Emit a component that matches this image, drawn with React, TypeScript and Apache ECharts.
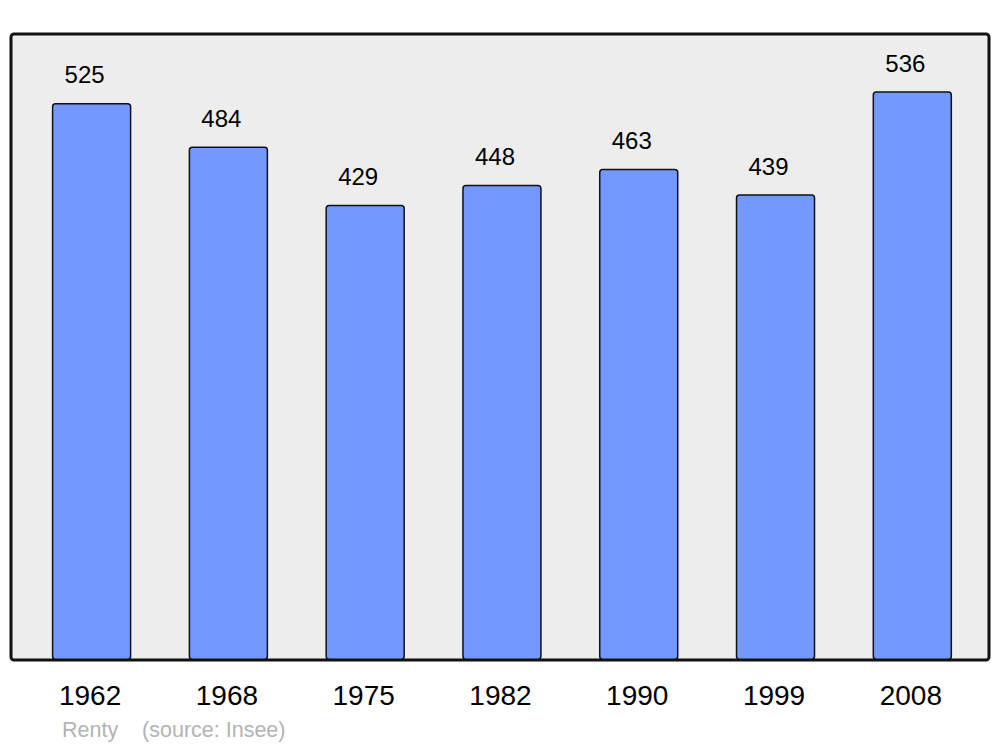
import React, { useEffect, useRef } from "react";
import * as echarts from "echarts";

const years = ["1962", "1968", "1975", "1982", "1990", "1999", "2008"];
const population = [525, 484, 429, 448, 463, 439, 536];
const sourceText = "Renty    (source: Insee)";

export default function App() {
  const ref = useRef<HTMLDivElement>(null);
  useEffect(() => {
    if (!ref.current) return;
    const chart = echarts.init(ref.current, null, { renderer: "svg" });
    chart.setOption({
      animation: false,
      backgroundColor: "#ffffff",
      textStyle: { fontFamily: "Liberation Sans, Arial, sans-serif" },
      graphic: [
        {
          type: "rect",
          z: -10,
          zlevel: 0,
          shape: { x: 11, y: 34, width: 978, height: 626, r: 3 },
          style: { fill: "#ededed", stroke: "#111111", lineWidth: 3 },
        },
        {
          type: "text",
          x: 62,
          y: 730,
          style: {
            text: sourceText,
            fill: "#b3b3b3",
            font: "21.5px Liberation Sans, Arial, sans-serif",
            verticalAlign: "middle",
          },
        },
      ],
      grid: { left: 23.2, top: 34, width: 957.5, bottom: 87, containLabel: false },
      xAxis: {
        type: "category",
        data: years,
        axisLine: { show: false },
        axisTick: { show: false },
        axisLabel: {
          fontSize: 28,
          color: "#000",
          margin: 21,
          padding: [0, 3, 0, 0],
          fontFamily: "Liberation Sans, Arial, sans-serif",
        },
      },
      yAxis: {
        type: "value",
        min: 0,
        max: 590,
        show: false,
        splitLine: { show: false },
      },
      series: [
        {
          type: "bar",
          data: population,
          barWidth: 79.5,
          itemStyle: {
            color: "#7399ff",
            borderColor: "#111111",
            borderWidth: 1.5,
            borderRadius: 3,
          },
          label: {
            show: true,
            position: "top",
            distance: 16,
            offset: [-7, 0],
            fontSize: 24,
            color: "#000",
            fontFamily: "Liberation Sans, Arial, sans-serif",
          },
        },
      ],
    });
    return () => chart.dispose();
  }, []);
  return (
    <div
      ref={ref}
      style={{ position: "absolute", left: 0, top: 0, width: 1000, height: 747 }}
    />
  );
}
